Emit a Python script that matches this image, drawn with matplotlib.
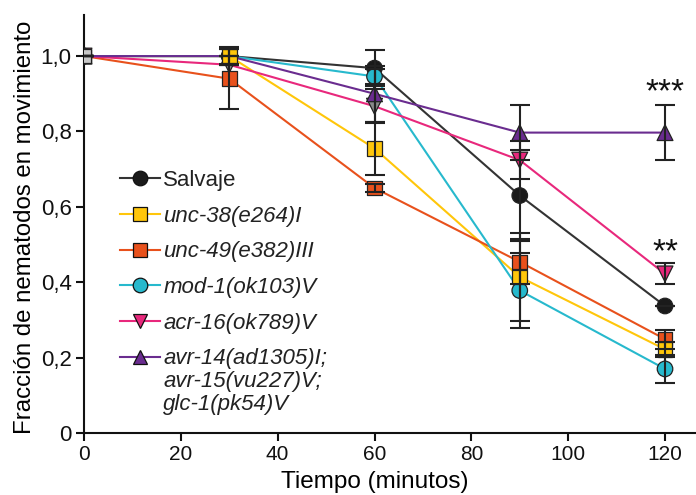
import matplotlib
matplotlib.use("Agg")
import matplotlib.pyplot as plt
from matplotlib.ticker import FuncFormatter

# Time points (minutes)
tiempo = [0, 30, 60, 90, 120]

# Fraction of moving nematodes, per strain, with error bars
salvaje = [1.0, 1.0, 0.968, 0.630, 0.337]
salvaje_err = [0.0, 0.02, 0.048, 0.12, 0.0]

unc38 = [1.0, 1.0, 0.755, 0.414, 0.222]
unc38_err = [0.0, 0.024, 0.07, 0.117, 0.02]

unc49 = [1.0, 0.94, 0.650, 0.454, 0.249]
unc49_err = [0.0, 0.08, 0.01, 0.06, 0.025]

mod1 = [1.0, 1.0, 0.946, 0.378, 0.170]
mod1_err = [0.0, 0.0, 0.02, 0.10, 0.037]

acr16 = [1.0, 0.977, 0.867, 0.724, 0.422]
acr16_err = [0.0, 0.0, 0.045, 0.05, 0.028]

triple = [1.0, 1.0, 0.900, 0.797, 0.797]
triple_err = [0.0, 0.0, 0.075, 0.073, 0.073]

etiquetas = [
    "Salvaje",
    "unc-38(e264)I",
    "unc-49(e382)III",
    "mod-1(ok103)V",
    "acr-16(ok789)V",
    "avr-14(ad1305)I;",
]
etiqueta_extra = ["avr-15(vu227)V;", "glc-1(pk54)V"]

# Significance marks at 120 min
sig_textos = ["***", "**"]
sig_y = [0.902, 0.478]

plt.rcParams["font.family"] = ["Liberation Sans", "DejaVu Sans"]

# (values, errors, line colour, face colour, marker, marker z)
series = [
    (salvaje, salvaje_err, "#333333", "#1a1a1a", "o", 3.0),
    (unc38, unc38_err, "#FFC60A", "#FFC60A", "s", 3.6),
    (unc49, unc49_err, "#E8511C", "#E8511C", "s", 3.3),
    (mod1, mod1_err, "#27B9CD", "#27B9CD", "o", 3.4),
    (acr16, acr16_err, "#E8287C", "#E8287C", "v", 3.1),
    (triple, triple_err, "#6A2C8F", "#6A2C8F", "^", 3.2),
]

# Individual points rendered in grey where markers overlap
grey_points = {(1, 0): "#C8C8C8", (4, 1): "#8A8A8A", (4, 2): "#8A8A8A"}

fig = plt.figure(figsize=(6.96, 4.95), dpi=100)
ax = fig.add_axes([84 / 696, 62 / 495, 612 / 696, 418 / 495])

handles = []
for i, (vals, errs, lcol, fcol, mk, z) in enumerate(series):
    ax.plot(tiempo, vals, color=lcol, lw=1.5, zorder=2 + i * 0.05)
    size = {"o": 125, "s": 110, "v": 130, "^": 130}[mk]
    fcs = [grey_points.get((i, j), fcol) for j in range(len(tiempo))]
    ax.scatter(tiempo, vals, s=size, marker=mk, c=fcs,
               edgecolors="#222222", linewidths=0.9, zorder=z)
    h, = ax.plot([], [], color=lcol, lw=1.5, marker=mk, markersize=10.5,
                 markerfacecolor=fcol, markeredgecolor="#111111", markeredgewidth=0.9)
    handles.append(h)

# Grey starting marker drawn above the others
for (i, j), col in grey_points.items():
    if j == 0:
        vals, _, _, _, mk, _ = series[i]
        ax.scatter([tiempo[j]], [vals[j]], s=110, marker=mk, c=[col],
                   edgecolors="#222222", linewidths=0.9, zorder=4.5)

for vals, errs, *_ in series:
    ax.errorbar(tiempo, vals, yerr=errs, fmt="none", ecolor="#222222",
                elinewidth=1.5, capsize=7, capthick=1.5, zorder=5)

for txt, yv in zip(sig_textos, sig_y):
    ax.text(tiempo[-1], yv, txt, ha="center", va="center", fontsize=24,
            color="#111111")

ax.set_xlim(0, 126.4)
ax.set_ylim(0, 1.109)
ax.set_xticks([0, 20, 40, 60, 80, 100, 120])
ax.set_yticks([0, 0.2, 0.4, 0.6, 0.8, 1.0])
ax.yaxis.set_major_formatter(FuncFormatter(
    lambda v, p: "0" if abs(v) < 1e-9 else f"{v:.1f}".replace(".", ",")))

for s in ["top", "right"]:
    ax.spines[s].set_visible(False)
for s in ["left", "bottom"]:
    ax.spines[s].set_linewidth(1.5)
    ax.spines[s].set_color("#111111")
ax.tick_params(direction="out", length=6, width=1.5, colors="#111111", pad=3)
ax.tick_params(axis="x", labelsize=15)
ax.tick_params(axis="y", labelsize=16)

ax.set_xlabel("Tiempo (minutos)", fontsize=17.5)
ax.xaxis.label.set_va("center")
ax.xaxis.set_label_coords(60 / 126.4, -0.117)
ax.set_ylabel("Fracción de nematodos en movimiento", fontsize=17.3)
ax.yaxis.label.set_va("center")
ax.yaxis.set_label_coords(-0.096, 0.493)

leg = ax.legend(handles, etiquetas, loc="upper left", bbox_to_anchor=(0.0588, 0.629),
                frameon=False, fontsize=16, handlelength=1.8, handletextpad=0.15,
                labelspacing=0.66, borderaxespad=0, borderpad=0)
for k, t in enumerate(leg.get_texts()):
    if k > 0:
        t.set_style("italic")
    t.set_color("#222222")

# Continuation lines of the last legend label
fig.canvas.draw()
bb = leg.get_texts()[-1].get_window_extent()
yc = (bb.y0 + bb.y1) / 2
for n, txt in enumerate(etiqueta_extra, start=1):
    fig.text(bb.x0 / fig.bbox.width, (yc - 23 * n) / fig.bbox.height, txt,
             ha="left", va="center", fontsize=16, style="italic", color="#222222")

fig.savefig("out.png", dpi=100)
